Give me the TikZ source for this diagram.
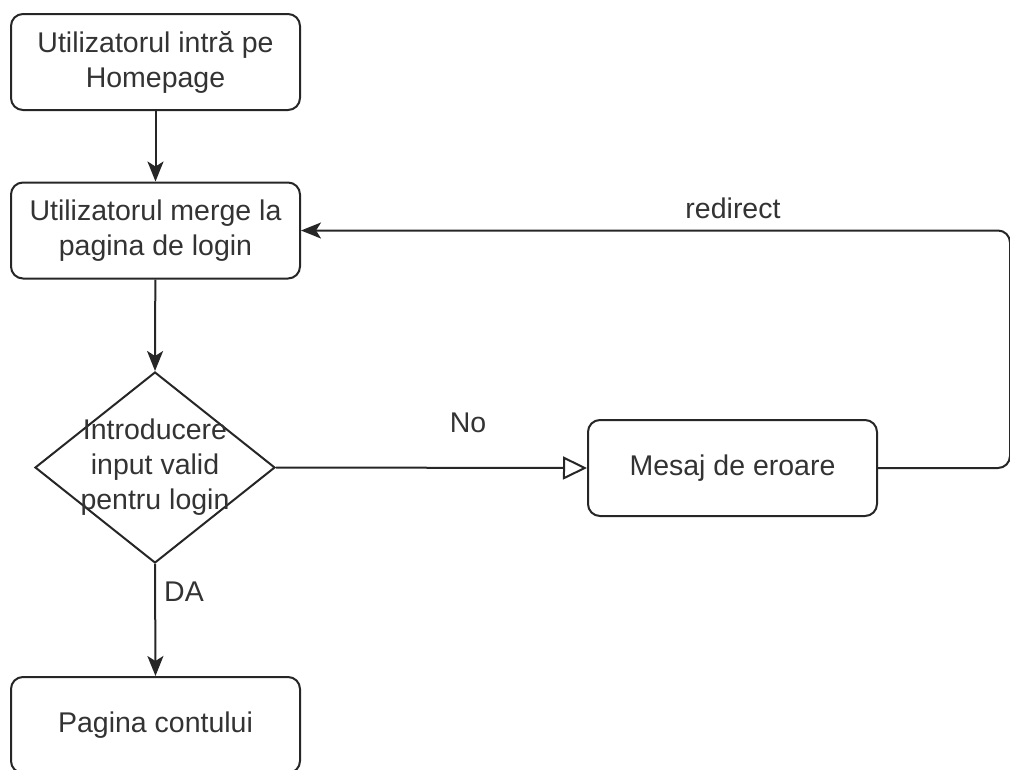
\documentclass[tikz,border=0pt]{standalone}
\usepackage{fontspec}
\setmainfont{Liberation Sans}
\usetikzlibrary{shapes.geometric,arrows.meta}
\begin{document}
\begin{tikzpicture}[x=1pt,y=-1pt,
  txt/.style={font=\fontsize{28.5}{35}\selectfont,text=black!80},
  box/.style={txt,draw=black!85,line width=2pt,rounded corners=12pt,minimum width=289pt,minimum height=96pt,inner sep=0pt,align=center},
  conn/.style={draw=black!85,line width=2pt},
  solid arrow/.style={-{Stealth[length=20pt,width=16pt,inset=5pt]}},
  open arrow/.style={-{Triangle[open,length=24pt,width=23pt,line width=2pt]}},
  lbl/.style={txt}]
\useasboundingbox (0,0) rectangle (1010,769);
\node[box] (home) at (155.5,62) {Utilizatorul intră pe\\Homepage};
\node[box] (login) at (155.5,230.5) {Utilizatorul merge la\\pagina de login};
\node[draw=black!85,line width=2pt,diamond,minimum width=240pt,minimum height=191pt,inner sep=0pt] (dec) at (155,467.5) {};
\node[txt,align=center] (dectext) at (dec.center) {Introducere\\input valid\\pentru login};
\node[box] (err) at (732.5,468) {Mesaj de eroare};
\node[box] (acc) at (155.5,725) {Pagina contului};
\coordinate (c1) at (1010,468);
\coordinate (c2) at (1010,230.5);
\draw[conn,solid arrow] (home) -- (login);
\draw[conn,solid arrow] (login) -- (dec.north);
\draw[conn,open arrow] (dec.east) -- (err.west);
\draw[conn,solid arrow] (dec.south) -- (acc.north);
\draw[conn,solid arrow,rounded corners=12pt] (err.east) -- (c1) -- (c2) -- (login.east);
\node[lbl] (lred) at (733,208) {redirect};
\node[lbl] (lno) at (468,423) {No};
\node[lbl] (lda) at (184,592) {DA};
\end{tikzpicture}
\end{document}
